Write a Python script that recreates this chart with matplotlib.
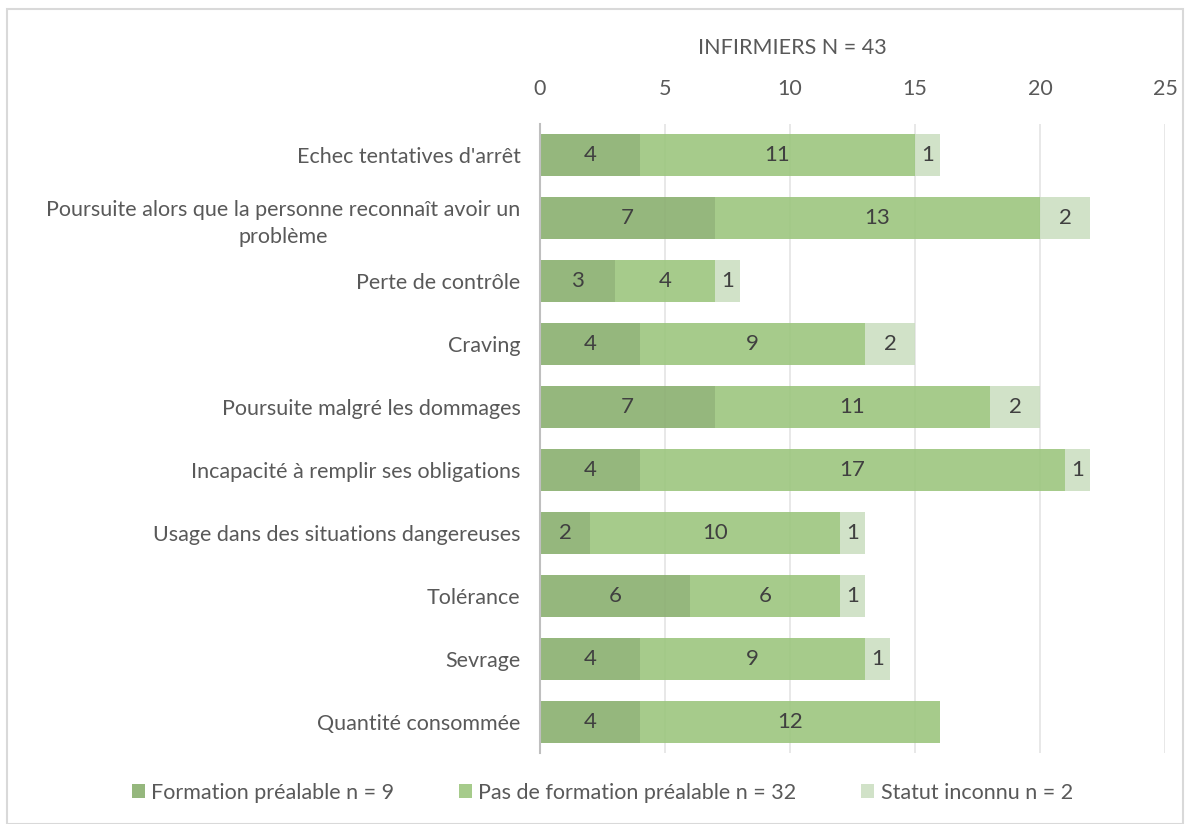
import matplotlib.pyplot as plt
from matplotlib.patches import Rectangle

categories = ["Echec tentatives d'arrêt",
              "Poursuite alors que la personne reconnaît avoir un\nproblème",
              "Perte de contrôle",
              "Craving",
              "Poursuite malgré les dommages",
              "Incapacité à remplir ses obligations",
              "Usage dans des situations dangereuses",
              "Tolérance",
              "Sevrage",
              "Quantité consommée"]
formation = [4, 7, 3, 4, 7, 4, 2, 6, 4, 4]
pas_formation = [11, 13, 4, 9, 11, 17, 10, 6, 9, 12]
inconnu = [1, 2, 1, 2, 2, 1, 1, 1, 1, 0]
series_names = ["Formation préalable n = 9",
                "Pas de formation préalable n = 32",
                "Statut inconnu n = 2"]
colors = ["#8AAF6F", "#9CC67E", "#CCDFC2"]

plt.rcParams['font.family'] = ['Lato', 'DejaVu Sans']
txt = "#595959"
fs = 15.5

fig = plt.figure(figsize=(11.88, 8.24), dpi=100)
ax = fig.add_axes([0.4545, 0.0856, 0.5261, 0.7644])

y = list(range(len(categories)))
left = [0] * len(categories)
for vals, name, c in zip([formation, pas_formation, inconnu], series_names, colors):
    bars = ax.barh(y, vals, left=left, height=0.66, color=c, alpha=0.9,
                   label=name, zorder=3)
    for b, v in zip(bars, vals):
        if v > 0:
            ax.text(b.get_x() + b.get_width() / 2, b.get_y() + b.get_height() / 2,
                    str(v), ha='center', va='center', fontsize=16, color="#404040",
                    zorder=4)
    left = [l + v for l, v in zip(left, vals)]

ax.set_xlim(0, 25)
ax.set_ylim(len(categories) - 0.5, -0.5)
ax.set_xticks(range(0, 26, 5))
ax.xaxis.tick_top()
ax.tick_params(axis='x', length=0, labelsize=fs, labelcolor=txt, pad=18)
ax.tick_params(axis='y', length=0, labelsize=fs, labelcolor=txt, pad=14)
ax.set_yticks(y)
ax.set_yticklabels(categories, ha='right', multialignment='center',
                   linespacing=1.45)
ax.grid(axis='x', color="#E4E4E4", linewidth=1.2, zorder=0)
for s in ['top', 'right', 'bottom']:
    ax.spines[s].set_visible(False)
ax.spines['left'].set_color("#BFBFBF")
ax.spines['left'].set_linewidth(1.5)
ax.spines['left'].set_zorder(5)

fig.text(0.667, 0.942, "INFIRMIERS N = 43", ha='center', va='center',
         fontsize=fs, color=txt)

fig.legend(loc='center', bbox_to_anchor=(0.507, 0.038), ncol=3, frameon=False,
           fontsize=fs, labelcolor=txt, handlelength=0.6, handleheight=0.6,
           handletextpad=0.3, columnspacing=3.0)

fig.patches.append(Rectangle((0.006, 0.0), 0.99, 0.989, transform=fig.transFigure,
                             fill=False, edgecolor="#D9D9D9", linewidth=1.5))

fig.savefig("out.png", dpi=100)
